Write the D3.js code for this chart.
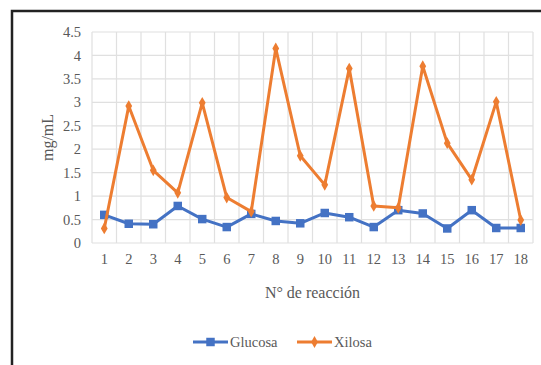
<!DOCTYPE html>
<html>
<head>
<meta charset="utf-8">
<script src="https://cdn.jsdelivr.net/npm/d3@7"></script>
<style>
  html, body { margin: 0; padding: 0; background: #fff; }
  svg { display: block; }
</style>
</head>
<body>
<svg id="chart" width="541" height="365"></svg>
<script>
// Reaction numbers and measured concentrations (mg/mL)
const reactions = [1, 2, 3, 4, 5, 6, 7, 8, 9, 10, 11, 12, 13, 14, 15, 16, 17, 18];
const glucosa = [0.60, 0.41, 0.40, 0.79, 0.51, 0.34, 0.62, 0.47, 0.42, 0.64, 0.55, 0.34, 0.70, 0.63, 0.31, 0.70, 0.32, 0.32];
const xilosa  = [0.31, 2.92, 1.55, 1.07, 2.99, 0.97, 0.67, 4.15, 1.86, 1.24, 3.72, 0.79, 0.75, 3.77, 2.13, 1.35, 3.01, 0.49];
const yTicks = [0, 0.5, 1, 1.5, 2, 2.5, 3, 3.5, 4, 4.5];

const FONT = '"Liberation Serif", "Times New Roman", serif';
const TEXT_COLOR = "#595959";

const series = [
  { name: "Glucosa", values: glucosa, color: "#4472C4", symbol: d3.symbolSquare, size: 72 },
  { name: "Xilosa",  values: xilosa,  color: "#ED7D31", symbol: d3.symbolDiamond, size: 40 }
];

const svg = d3.select("#chart");
const plot = { left: 92, right: 533, top: 32, bottom: 243 };

// Outer frame
svg.append("rect")
  .attr("x", 12).attr("y", 11)
  .attr("width", 560).attr("height", 380)
  .attr("fill", "none")
  .attr("stroke", "#222").attr("stroke-width", 2.5);

const x = d3.scaleBand().domain(reactions).range([plot.left, plot.right]);
const y = d3.scaleLinear().domain([0, 4.5]).range([plot.bottom, plot.top]);

// Horizontal gridlines
svg.append("g")
  .selectAll("line")
  .data(yTicks)
  .join("line")
  .attr("x1", plot.left).attr("x2", plot.right)
  .attr("y1", d => y(d)).attr("y2", d => y(d))
  .attr("stroke", "#e0e0e0").attr("stroke-width", 1.2);

// Vertical gridlines at category boundaries
const bounds = reactions.map(r => x(r)).concat([plot.right]);
svg.append("g")
  .selectAll("line")
  .data(bounds)
  .join("line")
  .attr("x1", d => d).attr("x2", d => d)
  .attr("y1", plot.top).attr("y2", plot.bottom)
  .attr("stroke", "#e0e0e0").attr("stroke-width", 1.2);

function styleText(sel, size) {
  sel.style("font-family", FONT).style("font-size", size).style("fill", TEXT_COLOR);
}

// Y axis tick labels
const yAxis = d3.axisLeft(y).tickValues(yTicks).tickSize(0).tickPadding(11)
  .tickFormat(d => String(d));
const gy = svg.append("g").attr("transform", `translate(${plot.left},0)`).call(yAxis);
gy.select(".domain").remove();
styleText(gy.selectAll("text"), "14.5px");

// X axis tick labels
const xAxis = d3.axisBottom(x).tickSize(0).tickPadding(11);
const gx = svg.append("g").attr("transform", `translate(0,${plot.bottom})`).call(xAxis);
gx.select(".domain").remove();
styleText(gx.selectAll("text"), "14.5px");

// Axis titles
svg.append("text")
  .attr("x", (plot.left + plot.right) / 2).attr("y", 298)
  .attr("text-anchor", "middle")
  .call(styleText, "16px")
  .text("N° de reacción");

svg.append("text")
  .attr("transform", `translate(53,${(plot.top + plot.bottom) / 2}) rotate(-90)`)
  .attr("text-anchor", "middle")
  .call(styleText, "16px")
  .text("mg/mL");

// Lines and markers
const cx = r => x(r) + x.bandwidth() / 2;
series.forEach(s => {
  const line = d3.line().x((d, i) => cx(reactions[i])).y(d => y(d));
  svg.append("path")
    .datum(s.values)
    .attr("d", line)
    .attr("fill", "none")
    .attr("stroke", s.color)
    .attr("stroke-width", 3)
    .attr("stroke-linejoin", "round");
  svg.append("g")
    .selectAll("path")
    .data(s.values)
    .join("path")
    .attr("transform", (d, i) => `translate(${cx(reactions[i])},${y(d)})`)
    .attr("d", d3.symbol().type(s.symbol).size(s.size))
    .attr("fill", s.color);
});

// Legend
const legendItems = [
  { s: series[0], x0: 193 },
  { s: series[1], x0: 297 }
];
const ly = 342;
legendItems.forEach(({ s, x0 }) => {
  const g = svg.append("g");
  g.append("line")
    .attr("x1", x0).attr("x2", x0 + 35)
    .attr("y1", ly).attr("y2", ly)
    .attr("stroke", s.color).attr("stroke-width", 3);
  g.append("path")
    .attr("transform", `translate(${x0 + 17.5},${ly})`)
    .attr("d", d3.symbol().type(s.symbol).size(s.size))
    .attr("fill", s.color);
  g.append("text")
    .attr("x", x0 + 37).attr("y", ly + 5)
    .call(styleText, "14.5px")
    .text(s.name);
});
</script>
</body>
</html>
